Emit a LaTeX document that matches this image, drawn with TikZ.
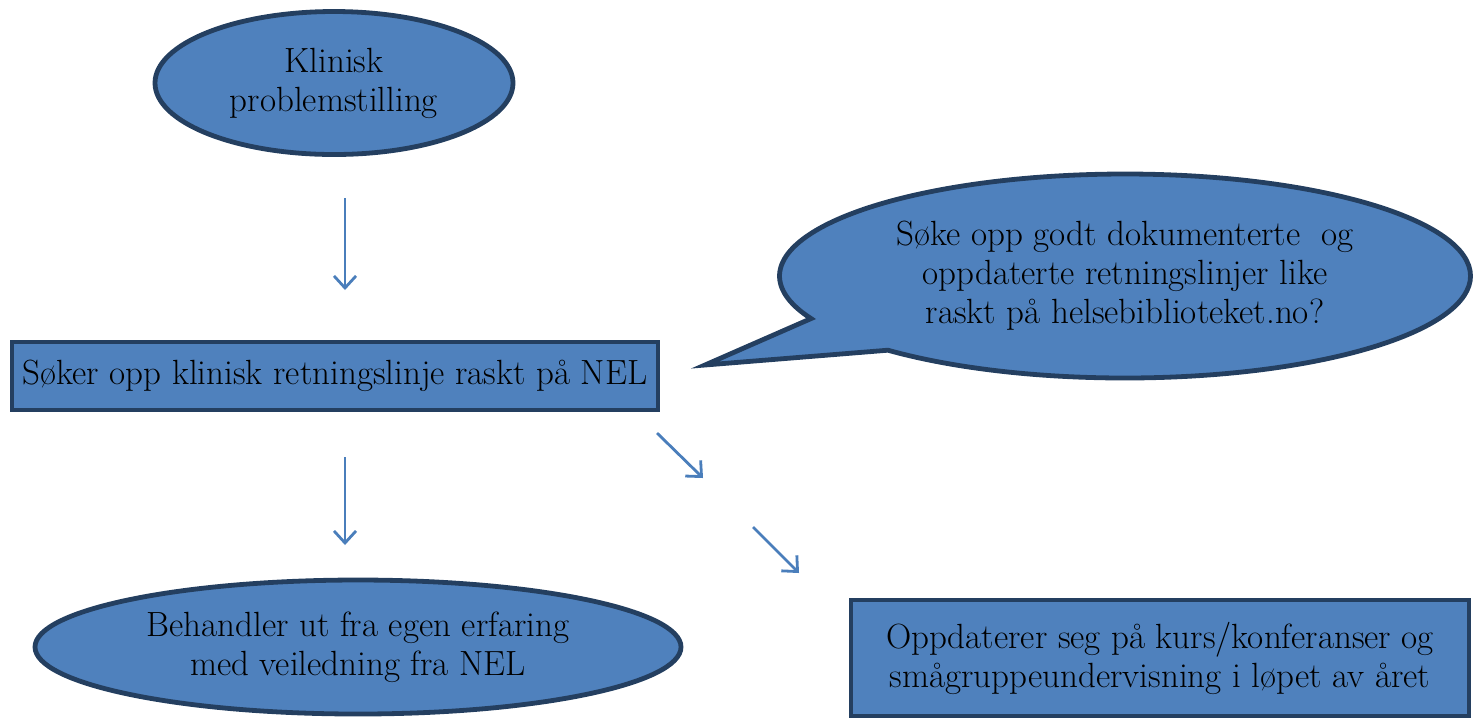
\documentclass[tikz,border=0pt]{standalone}
\usetikzlibrary{shapes,arrows.meta}
\definecolor{boksblaa}{RGB}{79,129,189}
\definecolor{kantblaa}{RGB}{36,63,96}
\definecolor{pilblaa}{RGB}{74,126,187}

\begin{document}
\begin{tikzpicture}[x=0.5pt,y=-0.5pt,
  every node/.style={font=\fontsize{17.5}{19.5}\selectfont, align=center},
  boble/.style={ellipse, draw=kantblaa, fill=boksblaa, line width=2.4pt, inner sep=0pt},
  boks/.style={rectangle, draw=kantblaa, fill=boksblaa, line width=2.4pt, inner sep=0pt},
  pil/.style={draw=pilblaa, line width=1.4pt, -{Straight Barb[length=6pt,width=11pt]}}]
\useasboundingbox (0,0) rectangle (1481,720);

% figurer
\node[boble, minimum width=179pt, minimum height=71.5pt] (klinisk) at (334,83)
  {Klinisk\\problemstilling};
\node[boks, minimum width=323pt, minimum height=34pt] (soker) at (335,376)
  {Søker opp klinisk retningslinje raskt på NEL};
\node[boble, minimum width=323pt, minimum height=67pt] (behandler) at (358,647)
  {Behandler ut fra egen erfaring\\med veiledning fra NEL};
\node[boks, minimum width=309pt, minimum height=58pt] (oppdaterer) at (1160,658)
  {Oppdaterer seg på kurs/konferanser og\\smågruppeundervisning i løpet av året};

% snakkeboble
\coordinate (tupp) at (705,365);
\node[boble, ellipse callout, callout absolute pointer=(tupp), callout pointer arc=22,
  minimum width=345.5pt, minimum height=102pt] (sokeopp) at (1125,276)
  {Søke opp godt dokumenterte\ \ og\\oppdaterte retningslinjer like\\raskt på helsebiblioteket.no?};

% piler
\coordinate (p1a) at (345,198);
\coordinate (p1b) at (345,290);
\coordinate (p2a) at (345,457);
\coordinate (p2b) at (345,545);
\coordinate (p3a) at (657,433);
\coordinate (p3b) at (703,478);
\coordinate (p4a) at (753,527);
\coordinate (p4b) at (799,573);
\draw[pil] (p1a) -- (p1b);
\draw[pil] (p2a) -- (p2b);
\draw[pil] (p3a) -- (p3b);
\draw[pil] (p4a) -- (p4b);
\end{tikzpicture}
\end{document}
